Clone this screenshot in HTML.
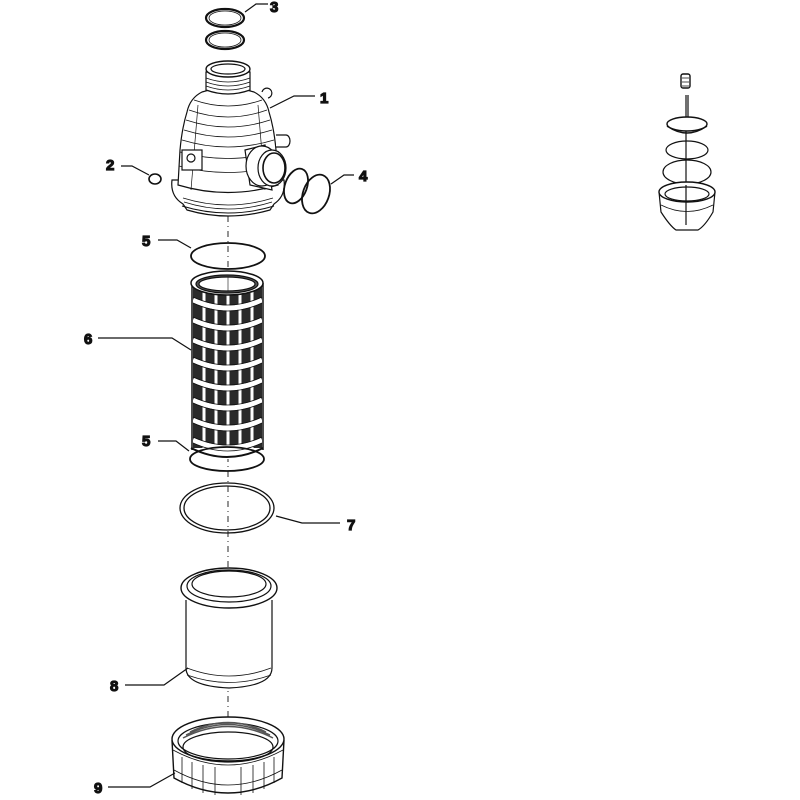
<!DOCTYPE html>
<html><head><meta charset="utf-8"><style>
html,body{margin:0;padding:0;background:#fff;}
svg{display:block;}
text{font-family:"Liberation Sans",sans-serif;font-weight:bold;font-size:15px;fill:#111;}
</style></head><body>
<svg width="800" height="800" viewBox="0 0 800 800" xmlns="http://www.w3.org/2000/svg" fill="none" stroke="#111" stroke-width="1.2">
<!-- centerline -->
<line x1="228" y1="216" x2="228" y2="795" stroke-dasharray="6,4,1,4" stroke-width="0.9"/>

<!-- part 3 rings -->
<ellipse cx="225" cy="18" rx="19" ry="9" stroke-width="2.2"/>
<ellipse cx="225" cy="18" rx="16" ry="7" stroke-width="0.8"/>
<ellipse cx="225" cy="40" rx="19" ry="9" stroke-width="2.2"/>
<ellipse cx="225" cy="40" rx="16" ry="7" stroke-width="0.8"/>
<polyline points="245,12 256,4 268,4"/>
<text x="270" y="12">3</text>

<!-- part 1 body -->
<path d="M172,180 Q170,196 183,204 L187,210 Q228,222 270,210 L274,204 Q286,196 284,180 Z" fill="#fff"/>
<path d="M182,206 Q228,220 274,206" stroke-width="1"/>
<path d="M183,198 Q228,212 273,198 M184,202 Q228,216 272,202" stroke-width="0.8"/>
<path d="M202,92 Q190,98 187,112 Q182,128 180,150 L178,185 Q228,200 278,185 L276,150 Q274,128 269,112 Q266,98 254,92 Q228,84 202,92 Z" fill="#fff"/>
<path d="M194,100 Q228,112 262,100 M189,110 Q228,124 267,110 M186,120 Q228,134 270,120 M184,130 Q228,144 272,130 M182,140 Q228,154 274,140" stroke-width="0.8"/>
<path d="M180,152 Q228,165 276,152 M179,166 Q228,179 277,166" stroke-width="0.8"/>
<line x1="198" y1="105" x2="191" y2="190" stroke-width="0.7"/>
<line x1="258" y1="105" x2="265" y2="190" stroke-width="0.7"/>
<rect x="182" y="150" width="20" height="20" fill="#fff"/>
<circle cx="191" cy="158" r="4"/>
<path d="M206,90 L206,72 L250,72 L250,90 Q228,98 206,90 Z" fill="#fff"/>
<path d="M206,78 Q228,86 250,78 M206,82 Q228,90 250,82 M206,86 Q228,94 250,86" stroke-width="0.8"/>
<ellipse cx="228" cy="69" rx="22" ry="8" fill="#fff" stroke-width="1.4"/>
<ellipse cx="228" cy="69" rx="17" ry="5"/>
<path d="M262,92 a5,5 0 1,1 6,6" fill="#fff"/>
<path d="M276,135 l10,0 a4,6 0 0,1 0,12 l-10,0" fill="#fff"/>
<!-- side port -->
<path d="M245,150 L265,145 L272,190 L250,185 Z" fill="#fff"/>
<ellipse cx="262" cy="166" rx="16" ry="20" fill="#fff"/>
<ellipse cx="272" cy="168" rx="14" ry="18" fill="#fff"/>
<ellipse cx="274" cy="168" rx="11" ry="15" stroke-width="1.6"/>
<polyline points="270,108 294,96 315,96"/>
<text x="320" y="103">1</text>

<!-- part 2 -->
<ellipse cx="155" cy="179" rx="6" ry="5" stroke-width="1.6"/>
<polyline points="149,175 132,166 121,166"/>
<text x="106" y="170">2</text>

<!-- part 4 -->
<ellipse cx="296" cy="186" rx="11" ry="18" transform="rotate(20 296 186)" stroke-width="1.8"/>
<ellipse cx="316" cy="194" rx="13" ry="20" transform="rotate(20 316 194)" stroke-width="1.8"/>
<polyline points="331,184 344,175 354,175"/>
<text x="359" y="181">4</text>

<!-- part 5 top -->
<ellipse cx="228" cy="256" rx="37" ry="13" stroke-width="1.8"/>
<polyline points="191,248 177,240 158,240"/>
<text x="142" y="246">5</text>

<!-- part 6 screen -->
<rect x="193" y="283" width="69" height="165" fill="#2a2a2a" stroke="none"/>
<g stroke="#fff" stroke-width="3">
<line x1="204" y1="286" x2="204" y2="455"/><line x1="216" y1="288" x2="216" y2="458"/>
<line x1="228" y1="289" x2="228" y2="459"/><line x1="240" y1="288" x2="240" y2="458"/>
<line x1="252" y1="286" x2="252" y2="455"/>
</g>
<g stroke="#fff" stroke-width="5">
<path d="M193,300 Q228,316 262,300 M193,320 Q228,336 262,320 M193,340 Q228,356 262,340 M193,360 Q228,376 262,360 M193,380 Q228,396 262,380 M193,400 Q228,416 262,400 M193,420 Q228,436 262,420 M193,440 Q228,456 262,440"/>
</g>
<g stroke-width="0.8">
<path d="M193,297 Q228,313 262,297 M193,303 Q228,319 262,303 M193,317 Q228,333 262,317 M193,323 Q228,339 262,323 M193,337 Q228,353 262,337 M193,343 Q228,359 262,343 M193,357 Q228,373 262,357 M193,363 Q228,379 262,363 M193,377 Q228,393 262,377 M193,383 Q228,399 262,383 M193,397 Q228,413 262,397 M193,403 Q228,419 262,403 M193,417 Q228,433 262,417 M193,423 Q228,439 262,423 M193,437 Q228,453 262,437 M193,443 Q228,459 262,443"/>
</g>
<line x1="192" y1="283" x2="192" y2="450" stroke-width="1.5"/>
<line x1="263" y1="283" x2="263" y2="450" stroke-width="1.5"/>
<ellipse cx="227" cy="283" rx="36" ry="12" fill="#fff" stroke-width="1.5"/>
<ellipse cx="227" cy="284" rx="31" ry="9" fill="#555"/>
<ellipse cx="227" cy="284" rx="28" ry="7" fill="#fff"/>
<line x1="228" y1="277" x2="228" y2="291" stroke-width="0.6"/>
<path d="M191,448 Q227,466 263,448" stroke-width="2"/>
<polyline points="191,350 172,338 98,338"/>
<text x="84" y="344">6</text>

<!-- part 5 bottom -->
<ellipse cx="227" cy="459" rx="37" ry="12" stroke-width="1.8"/>
<polyline points="189,451 176,441 158,441"/>
<text x="142" y="446">5</text>

<!-- part 7 -->
<ellipse cx="227" cy="508" rx="47" ry="25" stroke-width="1.3"/>
<ellipse cx="227" cy="508" rx="43" ry="22" stroke-width="1.3"/>
<polyline points="276,516 302,523 340,523"/>
<text x="347" y="530">7</text>

<!-- part 8 cup -->
<path d="M186,600 L186,668 Q186,686 229,688 Q272,686 272,668 L272,600" fill="#fff"/>
<path d="M187,668 Q229,684 271,668 M187,675 Q229,690 271,675" stroke-width="0.8"/>
<ellipse cx="229" cy="588" rx="48" ry="20" fill="#fff" stroke-width="1.4"/>
<ellipse cx="229" cy="586" rx="42" ry="16"/>
<ellipse cx="229" cy="584" rx="37" ry="13"/>
<polyline points="188,668 164,685 125,685"/>
<text x="110" y="691">8</text>

<!-- part 9 ring nut -->
<path d="M172,740 L174,778 Q228,808 282,778 L284,740" fill="#fff" stroke-width="1.4"/>
<path d="M173,750 Q228,780 283,750 M174,770 Q228,800 282,770" stroke-width="0.8"/>
<g stroke-width="0.8">
<line x1="182" y1="757" x2="182" y2="783"/><line x1="192" y1="762" x2="192" y2="789"/>
<line x1="203" y1="765" x2="203" y2="793"/><line x1="215" y1="767" x2="215" y2="795"/>
<line x1="241" y1="767" x2="241" y2="795"/><line x1="253" y1="765" x2="253" y2="793"/>
<line x1="264" y1="762" x2="264" y2="789"/><line x1="274" y1="757" x2="274" y2="783"/>
</g>
<ellipse cx="228" cy="739" rx="56" ry="22" fill="#fff" stroke-width="1.4"/>
<ellipse cx="228" cy="741" rx="50" ry="18"/>
<ellipse cx="228" cy="747" rx="45" ry="15"/>
<path d="M183,738 Q228,715 273,738 M186,735 Q228,714 270,735 M190,732 Q228,713 266,732" stroke="#555" stroke-width="1.5"/>
<polyline points="175,773 150,787 108,787"/>
<text x="94" y="793">9</text>

<!-- top-right assembly -->
<rect x="681" y="74" width="9" height="14" rx="2" fill="#fff" stroke-width="1.4"/>
<path d="M682,78 h7 M682,82 h7 M682,86 h7" stroke-width="0.8"/>
<line x1="686" y1="95" x2="686" y2="225"/>
<line x1="688" y1="95" x2="688" y2="120"/>
<ellipse cx="687" cy="124" rx="20" ry="7" fill="#fff" stroke-width="1.4"/>
<path d="M667,126 Q687,140 707,126" stroke-width="1.4"/>
<ellipse cx="687" cy="150" rx="21" ry="9"/>
<ellipse cx="687" cy="172" rx="24" ry="12"/>
<path d="M659,192 L661,212 Q670,226 676,230 L698,230 Q705,226 713,212 L715,192" fill="#fff"/>
<ellipse cx="687" cy="192" rx="28" ry="10" fill="#fff" stroke-width="1.4"/>
<ellipse cx="687" cy="194" rx="22" ry="7"/>
<path d="M661,205 Q687,218 713,205" stroke-width="0.8"/>
<line x1="686" y1="185" x2="686" y2="225"/>
</svg>
</body></html>
